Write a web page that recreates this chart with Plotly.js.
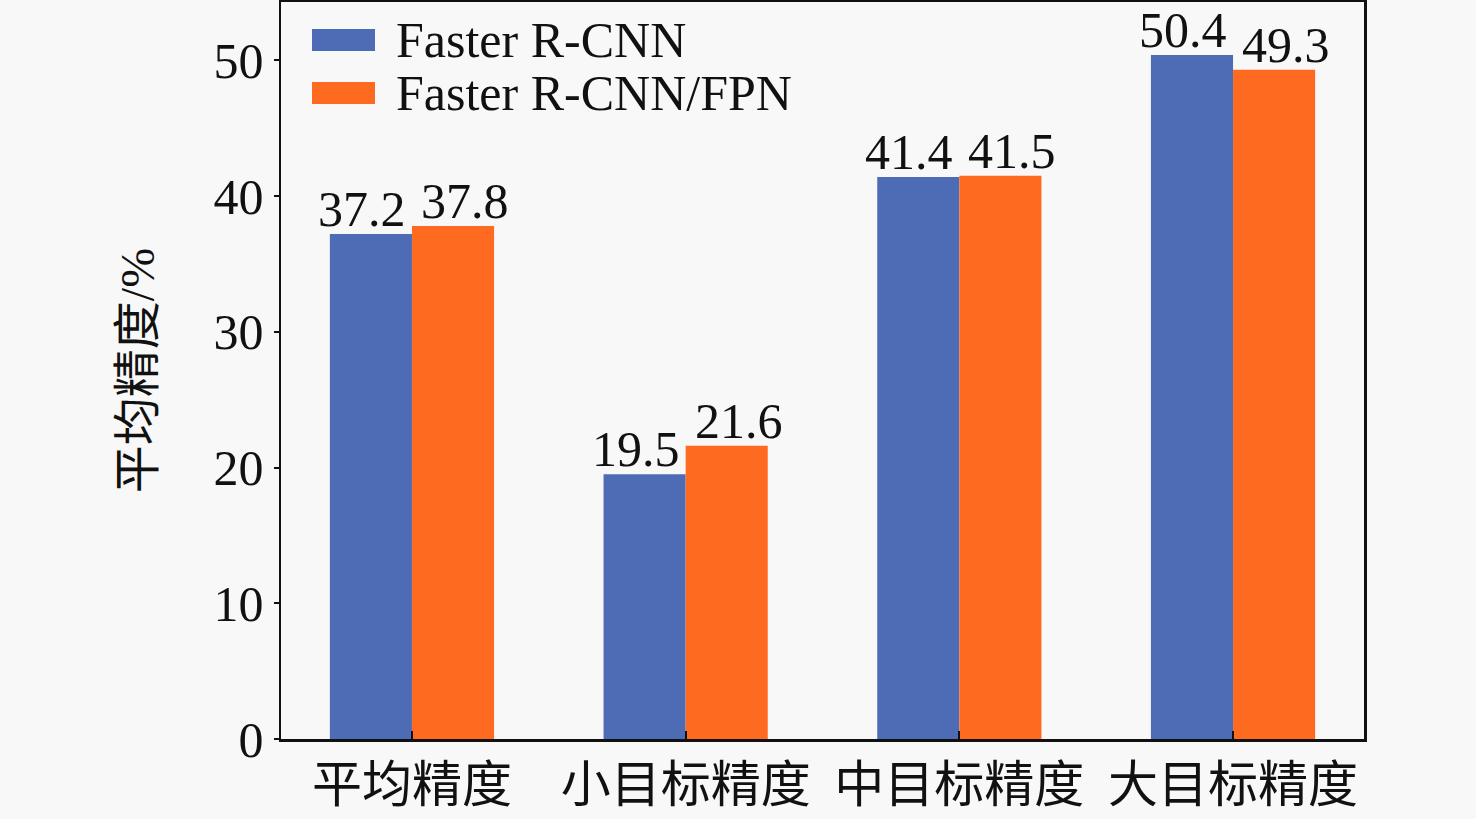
<!DOCTYPE html>
<html>
<head>
<meta charset="utf-8">
<script src="https://cdn.plot.ly/plotly-3.0.1.min.js"></script>
<style>
  html, body { margin: 0; padding: 0; background: #f8f8f8; }
  #chart { width: 1476px; height: 819px; }
</style>
</head>
<body>
<div id="chart"></div>
<script>
// Detection accuracy by object size
const categories = ['平均精度', '小目标精度', '中目标精度', '大目标精度'];
const seriesNames = ['Faster R-CNN', 'Faster R-CNN/FPN'];
const baseline = [37.2, 19.5, 41.4, 50.4];
const withFpn = [37.8, 21.6, 41.5, 49.3];
const yTicks = [0, 10, 20, 30, 40, 50];
const colors = ['#4e6bb5', '#fe6a20'];

const serif = '"Liberation Serif", "Times New Roman", "Noto Sans CJK SC", serif';
const FS = 50;

const allSeries = [baseline, withFpn];

const traces = allSeries.map((vals, i) => ({
  type: 'bar',
  name: seriesNames[i],
  x: categories,
  y: vals,
  marker: { color: colors[i], line: { width: 0 } },
  showlegend: false,
  hoverinfo: 'x+y'
}));

// Value labels above each bar (half-group offset in px, nudged apart)
const barPx = 82;
const nudge = [-9, 12];
const valueNotes = [];
allSeries.forEach((vals, i) => {
  vals.forEach((v, j) => {
    valueNotes.push({
      x: categories[j], y: v, xref: 'x', yref: 'y',
      xshift: (i === 0 ? -barPx / 2 : barPx / 2) + nudge[i],
      yshift: -5,
      xanchor: 'center', yanchor: 'bottom',
      text: v.toFixed(1), showarrow: false,
      font: { family: serif, size: FS, color: '#111' }
    });
  });
});

// Legend drawn as swatches with text, sized like the rest of the figure
const legendShapes = [];
const legendNotes = [];
seriesNames.forEach((name, i) => {
  const yc = 40 + i * 53; // px from top
  legendShapes.push({
    type: 'rect', xref: 'paper', yref: 'paper',
    x0: (312 - 281) / 1083, x1: (375 - 281) / 1083,
    y0: 1 - (yc - 11 - 2) / 737, y1: 1 - (yc + 11 - 2) / 737,
    fillcolor: colors[i], line: { width: 0 }
  });
  legendNotes.push({
    xref: 'paper', yref: 'paper',
    x: (394 - 281) / 1083, y: 1 - (yc - 2) / 737,
    xanchor: 'left', yanchor: 'middle',
    text: name, showarrow: false,
    font: { family: serif, size: FS, color: '#111' }
  });
});

const layout = {
  width: 1476,
  height: 819,
  margin: { l: 281, r: 112, t: 2, b: 80 },
  paper_bgcolor: '#f8f8f8',
  plot_bgcolor: '#f8f8f8',
  barmode: 'group',
  bargap: 0.4,
  bargroupgap: 0,
  showlegend: false,
  xaxis: {
    range: [-0.4785, 3.4785],
    showline: true, mirror: true, linecolor: '#111', linewidth: 2.5,
    ticks: 'inside', ticklen: 8, tickwidth: 2, tickcolor: '#111',
    tickfont: { family: serif, size: FS, color: '#111' },
    showgrid: false, zeroline: false, automargin: false
  },
  yaxis: {
    range: [0, 54.3],
    tickvals: yTicks,
    ticktext: yTicks.map(String),
    showline: true, mirror: true, linecolor: '#111', linewidth: 2.5,
    ticks: 'outside', ticklen: 5, tickwidth: 2, tickcolor: '#111',
    tickfont: { family: serif, size: FS, color: '#111' },
    showgrid: false, zeroline: false, automargin: false,
    title: { text: '平均精度/%', font: { family: serif, size: 48, color: '#111' }, standoff: 44 }
  },
  shapes: legendShapes,
  annotations: valueNotes.concat(legendNotes)
};

Plotly.newPlot('chart', traces, layout, { displayModeBar: false, staticPlot: true });
</script>
</body>
</html>
